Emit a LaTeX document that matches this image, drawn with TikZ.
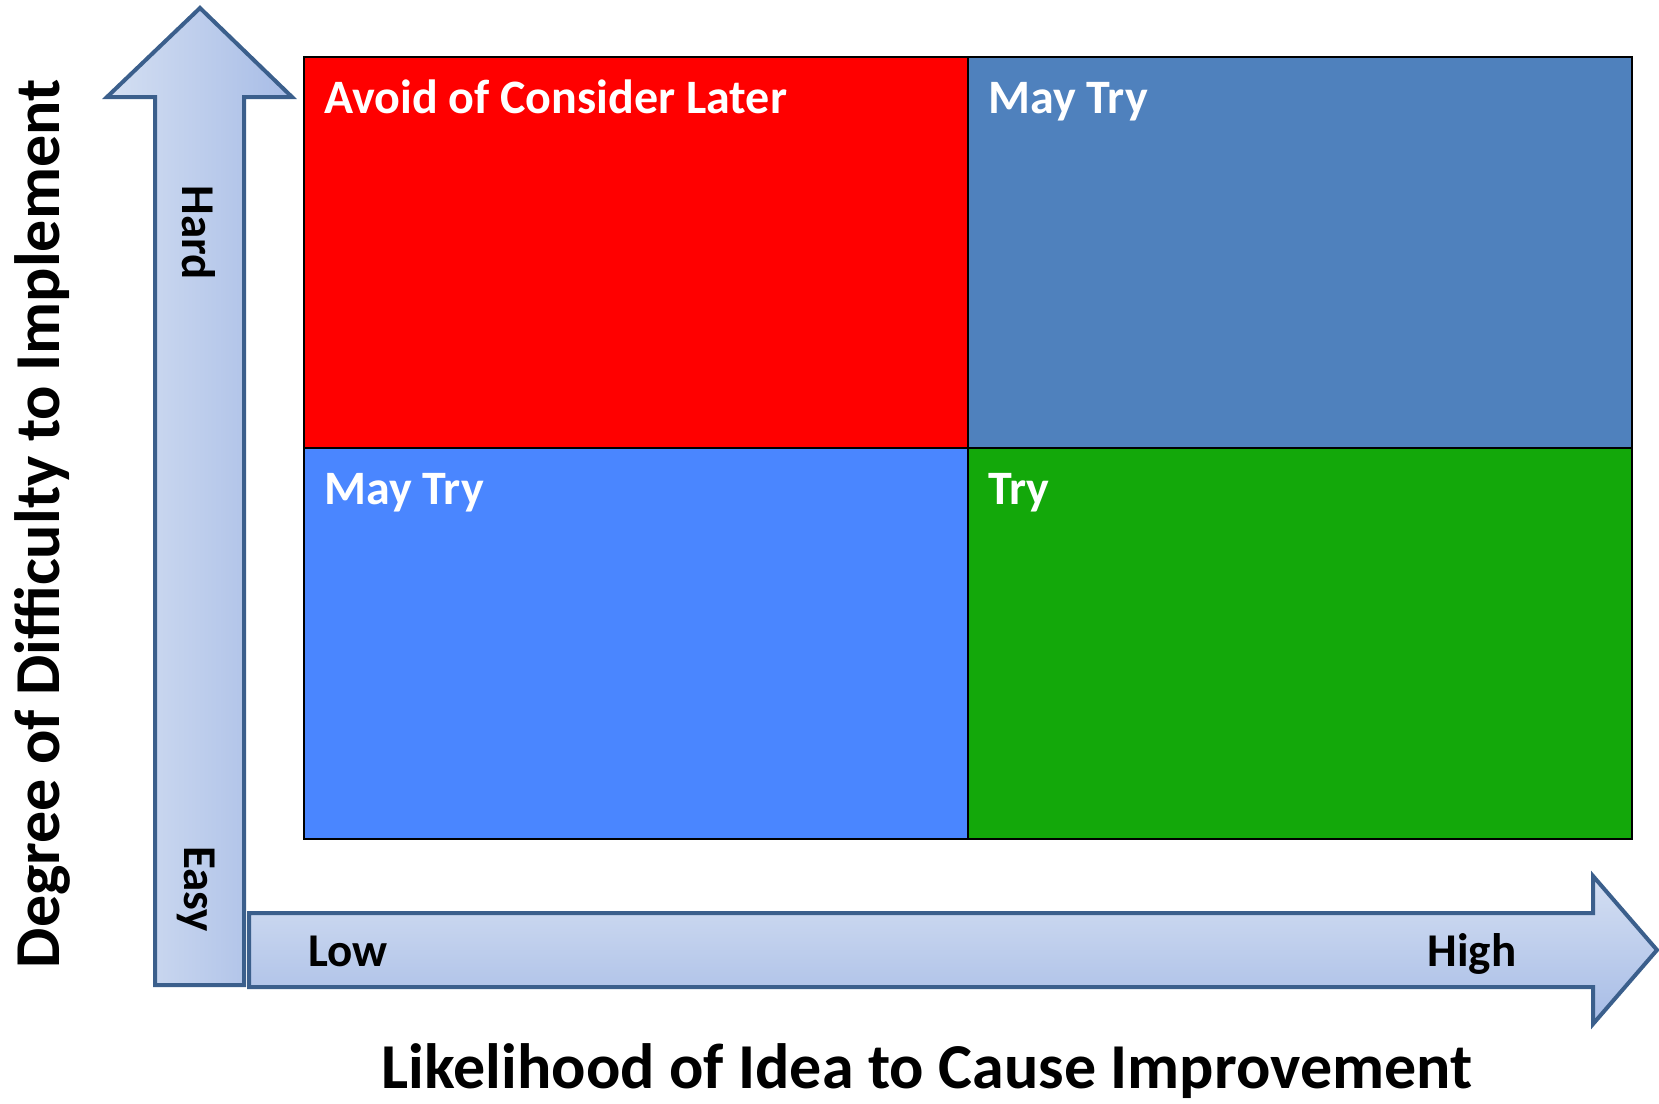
\documentclass[tikz,border=0pt]{standalone}
\usepackage{fontspec}
\setmainfont{Carlito}
\begin{document}
\begin{tikzpicture}[x=1pt,y=-1pt,
  quad/.style={draw=black,line width=2pt,minimum width=664pt,minimum height=391pt,inner sep=0pt,outer sep=0pt},
  qlabel/.style={anchor=base west,text=white,font=\fontsize{48}{48}\selectfont\bfseries,inner sep=0pt},
  axlabel/.style={font=\fontsize{47}{47}\selectfont\bfseries,inner sep=0pt},
  bigarrow/.style={draw=arrowline,line width=4pt,line join=miter},
  title/.style={font=\fontsize{64}{64}\selectfont\bfseries,inner sep=0pt}]
\definecolor{arrowline}{HTML}{3B5F8C}
\definecolor{qred}{HTML}{FF0000}
\definecolor{qsteel}{HTML}{4F81BD}
\definecolor{qblue}{HTML}{4A86FF}
\definecolor{qgreen}{HTML}{13A80A}
\definecolor{arrowlight}{HTML}{D4DFF2}
\definecolor{arrowdark}{HTML}{A7BCE6}
\useasboundingbox (0,0) rectangle (1659,1103);

% vertical axis arrow
\draw[bigarrow,left color=arrowlight,right color=arrowdark]
  (155,985) -- (155,97) -- (107,97) -- (200,8) -- (292,97) -- (244,97) -- (244,985) -- cycle;
% horizontal axis arrow
\draw[bigarrow,top color=arrowlight,bottom color=arrowdark]
  (249,913) -- (1593,913) -- (1593,876) -- (1657,950) -- (1593,1024) -- (1593,987) -- (249,987) -- cycle;

% quadrants
\node[quad,fill=qred,anchor=north west] (tl) at (304,57) {};
\node[quad,fill=qsteel,anchor=north west] (tr) at (tl.north east) {};
\node[quad,fill=qblue,anchor=north west] (bl) at (tl.south west) {};
\node[quad,fill=qgreen,anchor=north west] (br) at (tl.south east) {};

\node[qlabel] (ltl) at ([xshift=20pt,yshift=-56pt]tl.north west) {Avoid of Consider Later};
\node[qlabel] (ltr) at ([xshift=20pt,yshift=-56pt]tr.north west) {May Try};
\node[qlabel] (lbl) at ([xshift=20pt,yshift=-56pt]bl.north west) {May Try};
\node[qlabel] (lbr) at ([xshift=20pt,yshift=-56pt]br.north west) {Try};

% scale labels on the arrows
\node[axlabel,rotate=-90] (hard) at (199,233) {Hard};
\node[axlabel,rotate=-90] (easy) at (196,889) {Easy};
\node[axlabel,anchor=base] (low) at (348,966) {Low};
\node[axlabel,anchor=base] (high) at (1472,966) {High};

% axis titles
\node[title,rotate=90] (ytitle) at (42,524) {Degree of Difficulty to Implement};
\node[title] (xtitle) at (927,1071) {Likelihood of Idea to Cause Improvement};
\end{tikzpicture}
\end{document}
